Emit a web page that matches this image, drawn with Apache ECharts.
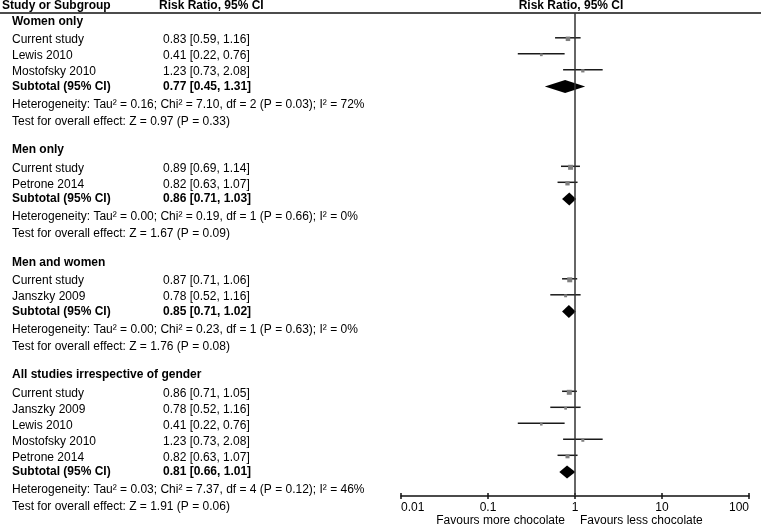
<!DOCTYPE html>
<html><head><meta charset="utf-8">
<script src="https://cdn.jsdelivr.net/npm/echarts@6/dist/echarts.min.js"></script>
<style>html,body{margin:0;padding:0;background:#fff}#c{width:761px;height:527px}</style>
</head><body><div id="c"></div>
<script>
// ---------------- data ----------------
const groupNames = ['Women only', 'Men only', 'Men and women', 'All studies irrespective of gender'];
const studyNames = [
  ['Current study', 'Lewis 2010', 'Mostofsky 2010'],
  ['Current study', 'Petrone 2014'],
  ['Current study', 'Janszky 2009'],
  ['Current study', 'Janszky 2009', 'Lewis 2010', 'Mostofsky 2010', 'Petrone 2014']
];
const studyRR = [[0.83, 0.41, 1.23], [0.89, 0.82], [0.87, 0.78], [0.86, 0.78, 0.41, 1.23, 0.82]];
const studyLo = [[0.59, 0.22, 0.73], [0.69, 0.63], [0.71, 0.52], [0.71, 0.52, 0.22, 0.73, 0.63]];
const studyHi = [[1.16, 0.76, 2.08], [1.14, 1.07], [1.06, 1.16], [1.05, 1.16, 0.76, 2.08, 1.07]];
const studyWeight = [[41, 15, 22], [51, 38], [51, 18], [51, 15, 13, 18, 33]]; // relative box weights (estimated)
const subtotalRR = [0.77, 0.86, 0.85, 0.81];
const subtotalLo = [0.45, 0.71, 0.71, 0.66];
const subtotalHi = [1.31, 1.03, 1.02, 1.01];
const heterogeneity = [
  'Heterogeneity: Tau² = 0.16; Chi² = 7.10, df = 2 (P = 0.03); I² = 72%',
  'Heterogeneity: Tau² = 0.00; Chi² = 0.19, df = 1 (P = 0.66); I² = 0%',
  'Heterogeneity: Tau² = 0.00; Chi² = 0.23, df = 1 (P = 0.63); I² = 0%',
  'Heterogeneity: Tau² = 0.03; Chi² = 7.37, df = 4 (P = 0.12); I² = 46%'
];
const overallEffect = [
  'Test for overall effect: Z = 0.97 (P = 0.33)',
  'Test for overall effect: Z = 1.67 (P = 0.09)',
  'Test for overall effect: Z = 1.76 (P = 0.08)',
  'Test for overall effect: Z = 1.91 (P = 0.06)'
];
const subtotalLabel = 'Subtotal (95% CI)';
const columnTitles = ['Study or Subgroup', 'Risk Ratio, 95% CI', 'Risk Ratio, 95% CI'];
const tickValues = [0.01, 0.1, 1, 10, 100];
const favourLabels = ['Favours more chocolate', 'Favours less chocolate'];

// ---------------- layout (row units) ----------------
const FONT = '"Liberation Sans", Arial, Helvetica, sans-serif';
const ROW_PX = 16;
const GRID = { left: 401, right: 12, top: 13, bottom: 31 };
const Y_MAX = (527 - GRID.top - GRID.bottom) / ROW_PX;
const FIRST = 8.5 / ROW_PX, HEAD_TO_STUDY = 18.5 / ROW_PX, TO_SUB = 14.5 / ROW_PX,
      TO_HET = 18 / ROW_PX, TO_TEST = 17 / ROW_PX, GROUP_GAP = 28.5 / ROW_PX;
const MARK_OFF = -2.2 / ROW_PX, DIAMOND_OFF = 0;

const fmt = (e, l, h) => `${e.toFixed(2)} [${l.toFixed(2)}, ${h.toFixed(2)}]`;
const rows = [];   // text rows
const marks = [];  // [est, y, lo, hi, weight, type]
let y = FIRST;
groupNames.forEach((g, gi) => {
  rows.push({ kind: 'heading', y, label: g });
  y += HEAD_TO_STUDY;
  studyNames[gi].forEach((n, si) => {
    if (si > 0) y += 1;
    rows.push({ kind: 'study', y, label: n, value: fmt(studyRR[gi][si], studyLo[gi][si], studyHi[gi][si]) });
    marks.push([studyRR[gi][si], y + MARK_OFF, studyLo[gi][si], studyHi[gi][si], studyWeight[gi][si], 0]);
  });
  y += TO_SUB;
  rows.push({ kind: 'subtotal', y, label: subtotalLabel, value: fmt(subtotalRR[gi], subtotalLo[gi], subtotalHi[gi]) });
  marks.push([subtotalRR[gi], y + DIAMOND_OFF, subtotalLo[gi], subtotalHi[gi], 0, 1]);
  y += TO_HET;
  rows.push({ kind: 'het', y, label: heterogeneity[gi] });
  y += TO_TEST;
  rows.push({ kind: 'test', y, label: overallEffect[gi] });
  y += GROUP_GAP;
});

const chart = echarts.init(document.getElementById('c'), null, { renderer: 'canvas' });

const xBase = {
  type: 'log', logBase: 10, min: 0.01, max: 100, position: 'bottom', offset: 0,
  splitLine: { show: false }
};
const tickFmt = v => {
  let best = tickValues[0];
  tickValues.forEach(t => { if (Math.abs(Math.log10(t) - Math.log10(v)) < Math.abs(Math.log10(best) - Math.log10(v))) best = t; });
  return String(best);
};

chart.setOption({
  animation: false,
  grid: GRID,
  xAxis: [
    Object.assign({}, xBase, {
      axisLine: { show: true, onZero: false, lineStyle: { color: '#111', width: 1.5 } },
      axisTick: { show: true, length: 3, lineStyle: { color: '#111', width: 1.5 } },
      axisLabel: { show: true, color: '#000', fontSize: 12, fontFamily: FONT, margin: 6,
        showMinLabel: true, showMaxLabel: true, alignMinLabel: 'left', alignMaxLabel: 'right', formatter: tickFmt }
    }),
    Object.assign({}, xBase, {
      axisLine: { show: false, onZero: false },
      axisTick: { show: true, inside: true, length: 3, lineStyle: { color: '#111', width: 1.5 } },
      axisLabel: { show: false }
    })
  ],
  yAxis: { type: 'value', min: 0, max: Y_MAX, inverse: true, show: false },
  series: [
    {
      type: 'custom', name: 'text', clip: false, silent: true,
      data: rows.map((r, k) => [1, r.y, k]),
      encode: { x: 0, y: 1 },
      renderItem(params, api) {
        const r = rows[api.value(2)];
        const py = api.coord([1, api.value(1)])[1];
        const bold = r.kind === 'heading' || r.kind === 'subtotal';
        const font = (bold ? 'bold ' : '') + '12px ' + FONT;
        const children = [{
          type: 'text', style: { x: 12, y: py, text: r.label, font, fill: '#000', align: 'left', verticalAlign: 'middle' }
        }];
        if (r.value) children.push({
          type: 'text', style: { x: 163, y: py, text: r.value, font, fill: '#000', align: 'left', verticalAlign: 'middle' }
        });
        return { type: 'group', children };
      }
    },
    {
      type: 'custom', name: 'marks', clip: false, silent: true,
      data: marks,
      encode: { x: 0, y: 1 },
      renderItem(params, api) {
        const yv = api.value(1);
        const pe = api.coord([api.value(0), yv]);
        const pl = api.coord([api.value(2), yv])[0];
        const ph = api.coord([api.value(3), yv])[0];
        if (api.value(5) === 0) {
          const s = 0.7 * Math.sqrt(api.value(4));
          return { type: 'group', children: [
            { type: 'line', shape: { x1: pl, y1: pe[1], x2: ph, y2: pe[1] }, style: { stroke: '#1a1a1a', lineWidth: 1.5 } },
            { type: 'rect', shape: { x: pe[0] - s / 2, y: pe[1] + 1 - s / 2, width: s, height: s }, style: { fill: '#7f7f7f' } }
          ] };
        }
        const h = 6.5;
        return { type: 'polygon', shape: { points: [[pl, pe[1]], [pe[0], pe[1] - h], [ph, pe[1]], [pe[0], pe[1] + h]] }, style: { fill: '#000' } };
      },
      markLine: {
        silent: true, symbol: ['none', 'none'], animation: false,
        label: { show: false },
        lineStyle: { color: '#333', width: 1.5, type: 'solid' },
        data: [{ xAxis: 1 }]
      }
    }
  ]
});

const x1 = chart.convertToPixel({ xAxisIndex: 0 }, 1);
const headY = 5.5;
chart.setOption({
  graphic: [
    { type: 'line', silent: true, shape: { x1: 0, y1: GRID.top, x2: 761, y2: GRID.top }, style: { stroke: '#111', lineWidth: 1.5 } },
    { type: 'text', silent: true, style: { x: 2, y: headY, text: columnTitles[0], font: 'bold 12px ' + FONT, fill: '#000', align: 'left', verticalAlign: 'middle' } },
    { type: 'text', silent: true, style: { x: 159, y: headY, text: columnTitles[1], font: 'bold 12px ' + FONT, fill: '#000', align: 'left', verticalAlign: 'middle' } },
    { type: 'text', silent: true, style: { x: x1 - 4, y: headY, text: columnTitles[2], font: 'bold 12px ' + FONT, fill: '#000', align: 'center', verticalAlign: 'middle' } },
    { type: 'text', silent: true, style: { x: x1 - 10, y: 521, text: favourLabels[0], font: '12px ' + FONT, fill: '#000', align: 'right', verticalAlign: 'middle' } },
    { type: 'text', silent: true, style: { x: x1 + 5, y: 521, text: favourLabels[1], font: '12px ' + FONT, fill: '#000', align: 'left', verticalAlign: 'middle' } }
  ]
});
</script>
</body></html>
